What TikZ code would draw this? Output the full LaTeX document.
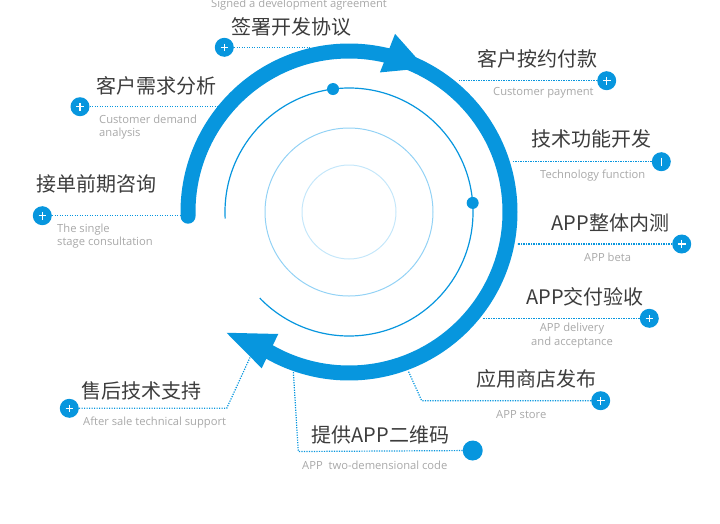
\documentclass[tikz,border=0pt]{standalone}
\usepackage{fontspec}
\setmainfont{Open Sans}
\newfontfamily\zhfont{Noto Sans CJK SC}
\usetikzlibrary{calc}
\definecolor{appblue}{HTML}{0796DE}
\definecolor{ringmid}{HTML}{93D2F5}
\definecolor{ringin}{HTML}{C5E7FA}
\definecolor{txtdark}{HTML}{3C3C3C}
\definecolor{txtgray}{HTML}{A8A8A8}

\begin{document}
\begin{tikzpicture}[x=1pt,y=-1pt]
  \tikzstyle{dot}=[circle,fill=appblue,minimum size=19pt,inner sep=0pt]
  \tikzstyle{plus}=[dot,path picture={\draw[white,line width=1.2pt] ($(path picture bounding box.center)+(-3.8,0)$) -- ++(7.6,0) ($(path picture bounding box.center)+(0,-3.8)$) -- ++(0,7.6);}]
  \tikzstyle{bar}=[dot,path picture={\draw[white,line width=1.2pt] ($(path picture bounding box.center)+(0,-4)$) -- ++(0,8);}]
  \tikzstyle{title}=[inner sep=0pt,anchor=west,text=txtdark,font=\zhfont\fontsize{20}{24}\selectfont]
  \tikzstyle{sub}=[inner sep=0pt,anchor=west,text=txtgray,font=\fontsize{11.2}{13.6}\selectfont]
  \tikzstyle{link}=[appblue,line width=1.2pt,dash pattern=on 1.2pt off 1.3pt]

  \useasboundingbox (0,0) rectangle (720,523);
  \coordinate (o) at (349,212);

  % rings
  \draw[ringin,line width=1pt] (o) circle[radius=47pt];
  \draw[ringmid,line width=1pt] (o) circle[radius=84pt];
  \draw[appblue,line width=1.2pt] ($(o)+(183:124pt)$) arc[start angle=183,end angle=-136,radius=124pt];
  \fill[appblue] ($(o)+(97.4:124pt)$) circle[radius=6pt];
  \fill[appblue] ($(o)+(4.2:124pt)$) circle[radius=6pt];

  % steps
  \node[plus] (p1) at (224.3,47.3) {};
  \node[plus] (p2) at (80,106.7) {};
  \node[plus] (p3) at (42.3,215.7) {};
  \node[plus] (p4) at (606.7,80.7) {};
  \node[bar] (p5) at (661.3,161.7) {};
  \node[plus] (p6) at (681.7,244) {};
  \node[plus] (p7) at (649.3,318.3) {};
  \node[plus] (p8) at (600.7,400.7) {};
  \node[dot,minimum size=20pt] (p9) at (472.7,450.5) {};
  \node[plus] (p10) at (69.3,408.3) {};

  \coordinate (e1) at (310,47.3);
  \coordinate (e2) at (218,106.7);
  \coordinate (e3) at (184,215.7);
  \coordinate (e4) at (459,80.7);
  \coordinate (e5) at (513,161.7);
  \coordinate (e6) at (517,244);
  \coordinate (e7) at (483,318.3);
  \coordinate (b8) at (421.7,400.7);
  \coordinate (e8) at (408.3,371);
  \coordinate (b9) at (298.3,451.5);
  \coordinate (e9) at (293.3,371);
  \coordinate (b10) at (226.7,408.3);
  \coordinate (e10) at (250,357.5);

  \draw[link] (p1) -- (e1);
  \draw[link] (p2) -- (e2);
  \draw[link] (p3) -- (e3);
  \draw[link] (p4) -- (e4);
  \draw[link] (p5) -- (e5);
  \draw[link] (p6) -- (e6);
  \draw[link] (p7) -- (e7);
  \draw[link] (p8) -- (b8) -- (e8);
  \draw[link] (p9) -- (b9) -- (e9);
  \draw[link] (p10) -- (b10) -- (e10);

  % main arrow
  \draw[appblue,line width=15pt,line cap=round] ($(o)+(181.5:161pt)$) arc[start angle=181.5,end angle=-120,radius=161pt];
  \fill[appblue] ($(o)+(75.5:184pt)$) -- ($(o)+(77.5:143pt)$) -- ($(o)+(62:163pt)$) -- cycle;
  \fill[appblue] ($(o)+(224.6:172pt)$) -- ($(o)+(239.9:141pt)$) -- ($(o)+(240.8:179pt)$) -- cycle;

  % labels
  \node[title] (t1) at (231,27) {签署开发协议};
  \node[sub] (s1) at (211,5) {Signed a development agreement};
  \node[title] (t2) at (96,86) {客户需求分析};
  \node[sub,anchor=north west,align=left] (s2) at (99,114.5) {Customer demand\\analysis};
  \node[title] (t3) at (36,184) {接单前期咨询};
  \node[sub,anchor=north west,align=left] (s3) at (57,223.5) {The single\\stage consultation};
  \node[title] (t4) at (477,58.7) {客户按约付款};
  \node[sub] (s4) at (493,92.3) {Customer payment};
  \node[title] (t5) at (531.5,139.3) {技术功能开发};
  \node[sub] (s5) at (540,176) {Technology function};
  \node[title] (t6) at (551.5,222.7) {APP整体内测};
  \node[sub] (s6) at (584,257.3) {APP beta};
  \node[title] (t7) at (526,296.7) {APP交付验收};
  \node[sub,anchor=north,align=center] (s7) at (572,323) {APP delivery\\and acceptance};
  \node[title] (t8) at (476.5,379.3) {应用商店发布};
  \node[sub] (s8) at (496,415) {APP store};
  \node[title] (t9) at (311.5,435) {提供APP二维码};
  \node[sub] (s9) at (302,465) {APP~ two-demensional code};
  \node[title] (t10) at (81.5,390.7) {售后技术支持};
  \node[sub] (s10) at (83,422.7) {After sale technical support};
\end{tikzpicture}
\end{document}
